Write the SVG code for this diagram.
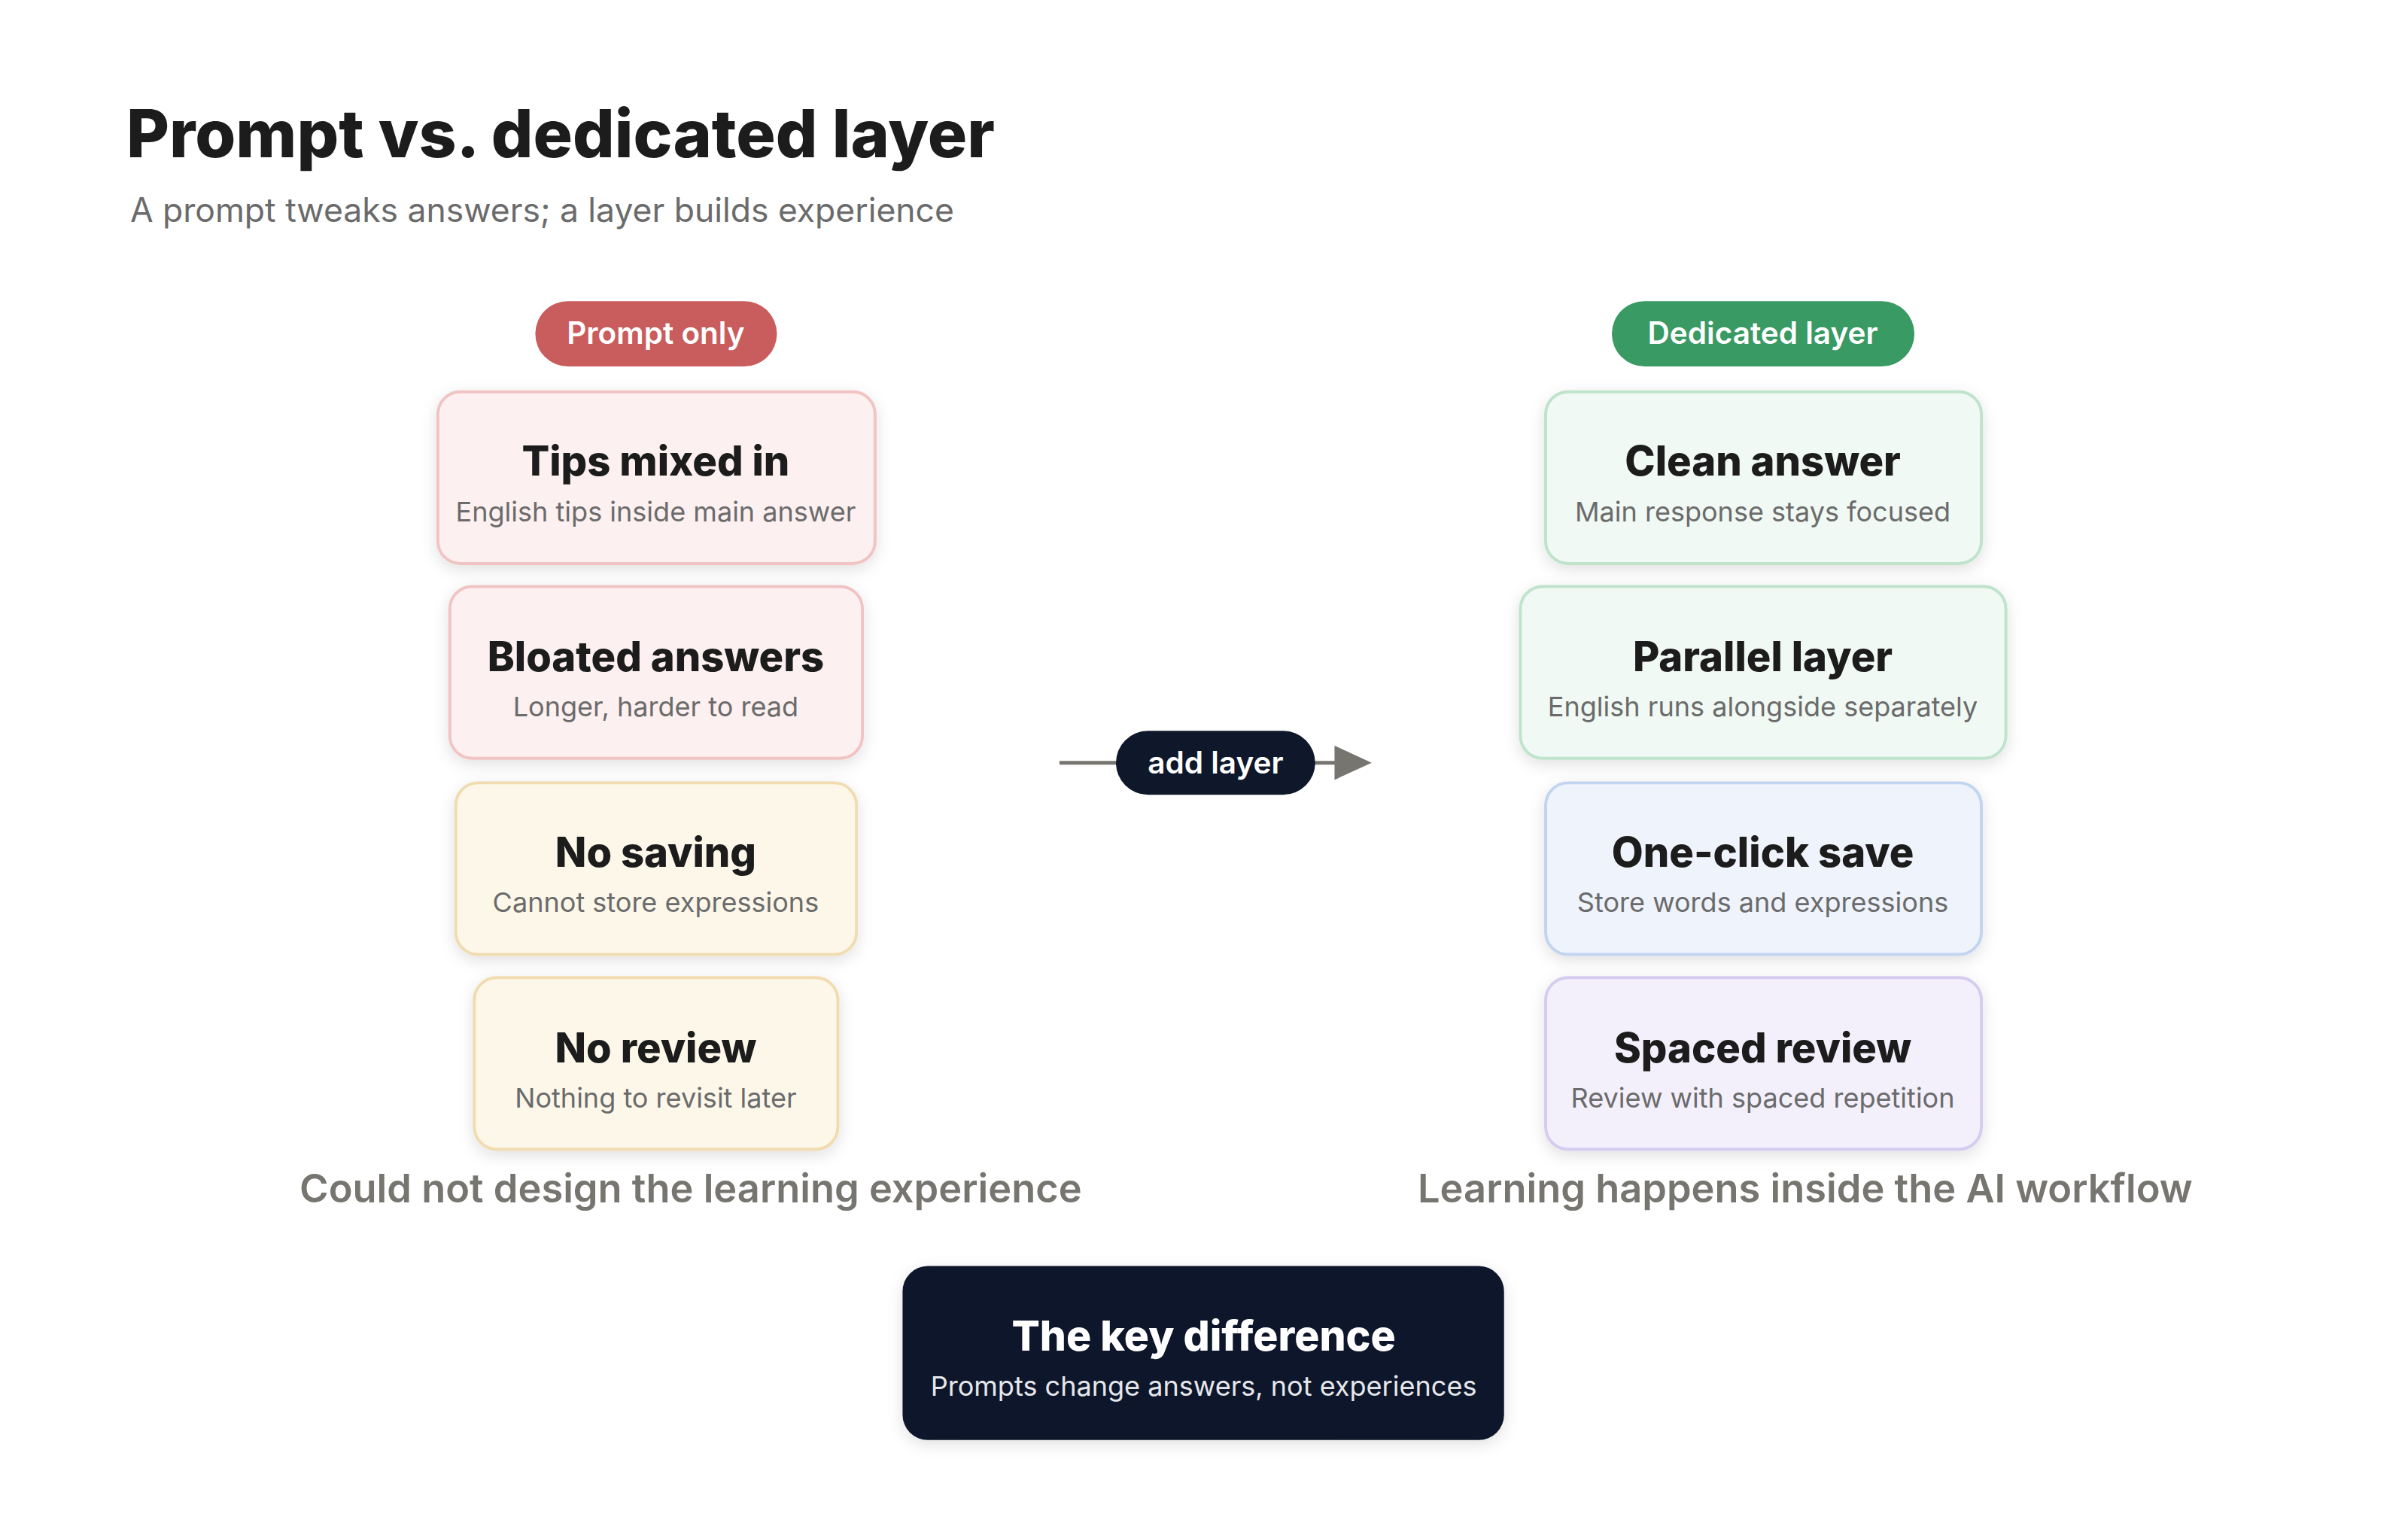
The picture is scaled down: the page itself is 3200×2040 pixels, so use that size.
<svg xmlns="http://www.w3.org/2000/svg" width="3200" height="2040" viewBox="0 0 3200 2040">
<style>
text{font-family:Inter,"Noto Sans",sans-serif;text-anchor:middle}
.t{font-size:55px;font-weight:800;fill:#1c1c1c}
.s{font-size:36.5px;fill:#6b6b6b}
.pill{font-size:41px;font-weight:600;fill:#fff}
.cap{font-size:53px;font-weight:600;fill:#77756f}
.red{fill:#fdf0f0;stroke:#f1c4c4;stroke-width:4}
.yel{fill:#fdf7ea;stroke:#f0dcb0;stroke-width:4}
.grn{fill:#f0f9f3;stroke:#bfe3cb;stroke-width:4}
.blu{fill:#eef3fc;stroke:#c3d4f0;stroke-width:4}
.pur{fill:#f3f0fc;stroke:#d6ccf0;stroke-width:4}
</style>
<defs><filter id="sh" x="-20%" y="-20%" width="140%" height="150%"><feDropShadow dx="0" dy="6" stdDeviation="10" flood-color="#000" flood-opacity="0.12"/></filter></defs>
<rect width="3200" height="2040" fill="#fff"/>
<g transform="scale(0.988)">
<text x="170" y="212" style="text-anchor:start;font-size:88.5px;font-weight:800;fill:#1c1c1c">Prompt vs. dedicated layer</text>
<text x="175" y="299" style="text-anchor:start;font-size:45px;fill:#6b6b6b">A prompt tweaks answers; a layer builds experience</text>
<g id="pill-prompt"><rect x="720" y="405" width="325" height="88" rx="44" fill="#c95c5c"/><text class="pill" x="882" y="463">Prompt only</text></g>
<g id="pill-dedicated"><rect x="2168" y="405" width="407" height="88" rx="44" fill="#3a9a64"/><text class="pill" x="2371" y="463">Dedicated layer</text></g>
<g id="tips"><rect class="red" x="589" y="527" width="588" height="231" rx="30" filter="url(#sh)"/><text class="t" x="882" y="640">Tips mixed in</text><text class="s" x="882" y="701">English tips inside main answer</text></g>
<g id="bloated"><rect class="red" x="605" y="789" width="555" height="231" rx="30" filter="url(#sh)"/><text class="t" x="882" y="903">Bloated answers</text><text class="s" x="882" y="964">Longer, harder to read</text></g>
<g id="nosave"><rect class="yel" x="613" y="1053" width="539" height="231" rx="30" filter="url(#sh)"/><text class="t" x="882" y="1166">No saving</text><text class="s" x="882" y="1227">Cannot store expressions</text></g>
<g id="noreview"><rect class="yel" x="638" y="1315" width="489" height="231" rx="30" filter="url(#sh)"/><text class="t" x="882" y="1429">No review</text><text class="s" x="882" y="1490">Nothing to revisit later</text></g>
<g id="clean"><rect class="grn" x="2079" y="527" width="586" height="231" rx="30" filter="url(#sh)"/><text class="t" x="2371" y="640">Clean answer</text><text class="s" x="2371" y="701">Main response stays focused</text></g>
<g id="parallel"><rect class="grn" x="2045" y="789" width="653" height="231" rx="30" filter="url(#sh)"/><text class="t" x="2371" y="903">Parallel layer</text><text class="s" x="2371" y="964">English runs alongside separately</text></g>
<g id="oneclick"><rect class="blu" x="2079" y="1053" width="586" height="231" rx="30" filter="url(#sh)"/><text class="t" x="2371" y="1166">One-click save</text><text class="s" x="2371" y="1227">Store words and expressions</text></g>
<g id="spaced"><rect class="pur" x="2079" y="1315" width="586" height="231" rx="30" filter="url(#sh)"/><text class="t" x="2371" y="1429">Spaced review</text><text class="s" x="2371" y="1490">Review with spaced repetition</text></g>
<g id="captions"><text class="cap" x="929" y="1617">Could not design the learning experience</text><text class="cap" x="2428" y="1617">Learning happens inside the AI workflow</text></g>
<g id="connectors"><line x1="1425" y1="1026" x2="1800" y2="1026" stroke="#77756f" stroke-width="5"/><polygon points="1795,1003 1845,1026 1795,1049" fill="#77756f"/></g>
<g id="add-layer"><rect x="1501" y="983" width="268" height="86" rx="43" fill="#0f172a"/><text x="1635" y="1040" style="font-size:41px;font-weight:600;fill:#fff">add layer</text></g>
<g id="key"><rect x="1214" y="1703" width="809" height="234" rx="34" fill="#0f172a" filter="url(#sh)"/><text x="1619" y="1817" style="font-size:56px;font-weight:800;fill:#fff">The key difference</text><text x="1619" y="1878" style="font-size:36.5px;fill:#e5e7eb">Prompts change answers, not experiences</text></g>
</g>
</svg>
